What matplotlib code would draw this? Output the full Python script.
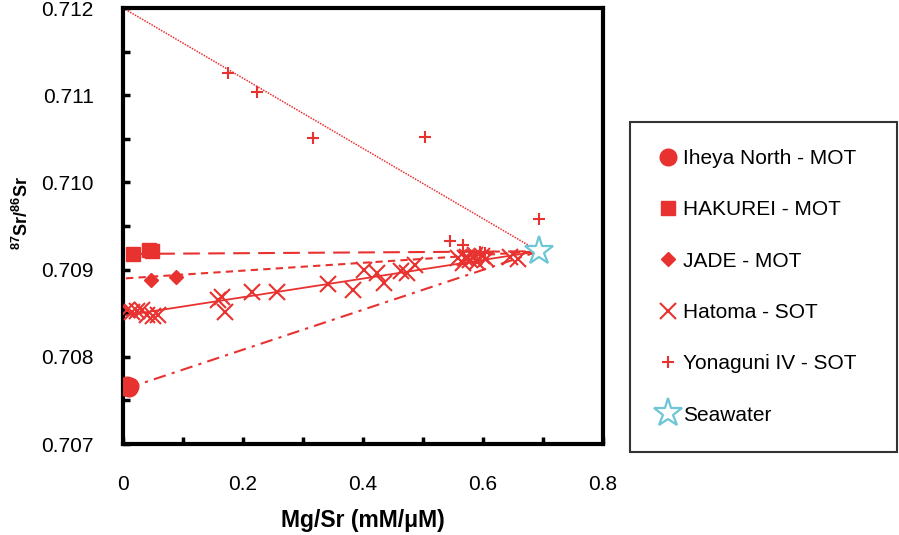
import numpy as np
import matplotlib.pyplot as plt
from matplotlib.ticker import MultipleLocator, FuncFormatter

plt.rcParams['font.family'] = ['Liberation Sans', 'DejaVu Sans']
plt.rcParams['mathtext.fontset'] = 'custom'
plt.rcParams['mathtext.rm'] = 'Liberation Sans'
plt.rcParams['mathtext.bf'] = 'Liberation Sans:bold'

# %% Data (Mg/Sr in mM/uM, 87Sr/86Sr)

iheya_x = [0.003, 0.007, 0.010, 0.012]
iheya_y = [0.70765, 0.70768, 0.70764, 0.70766]

hakurei_x = [0.017, 0.043, 0.048]
hakurei_y = [0.70918, 0.70922, 0.70921]

jade_x = [0.047, 0.088]
jade_y = [0.70888, 0.70892]

hatoma_x = [0.007, 0.015, 0.023, 0.032, 0.040, 0.050, 0.058, 0.158, 0.165, 0.170,
            0.215, 0.257, 0.342, 0.383, 0.402, 0.423, 0.435, 0.463, 0.473, 0.487,
            0.558, 0.567, 0.573, 0.578, 0.585, 0.590, 0.598, 0.605, 0.587, 0.570,
            0.645, 0.658]
hatoma_y = [0.70854, 0.70851, 0.70853, 0.70854, 0.70848, 0.70847, 0.70848, 0.70865, 0.70869, 0.70851,
            0.70874, 0.70874, 0.70883, 0.70877, 0.70900, 0.70896, 0.70885, 0.70898, 0.70896, 0.70905,
            0.70913, 0.70908, 0.70915, 0.70911, 0.70914, 0.70909, 0.70916, 0.70912, 0.70917, 0.70913,
            0.70914, 0.70912]

yonaguni_x = [0.175, 0.223, 0.317, 0.503, 0.693, 0.545, 0.567, 0.595, 0.603]
yonaguni_y = [0.71125, 0.71104, 0.71051, 0.71052, 0.70958, 0.70933, 0.70928, 0.70920, 0.70919]

seawater_x = 0.693
seawater_y = 0.70921

# mixing line end members (toward seawater)
end_names = ['Iheya', 'HAKUREI', 'JADE', 'Hatoma', 'Yonaguni']
end_x = [0.007, 0.017, 0.005, 0.0, 0.0]
end_y = [0.70764, 0.70918, 0.70890, 0.70847, 0.71200]

red = '#e8322f'
cyan = '#6cc6d6'

# %% Plot

fig = plt.figure(figsize=(8.99, 5.35), dpi=100)
ax = fig.add_axes([123/899, 1-444/535, 480/899, 436/535])

styles = {'Iheya': (0, (6, 3, 1.5, 3)), 'HAKUREI': (0, (8, 4)), 'JADE': (0, (3.5, 2.5)),
          'Hatoma': '-', 'Yonaguni': (0, (1, 0.8))}
widths = {'Iheya': 1.5, 'HAKUREI': 1.5, 'JADE': 1.5, 'Hatoma': 1.3, 'Yonaguni': 1.1}
for name, ex, ey in zip(end_names, end_x, end_y):
    ax.plot([ex, seawater_x], [ey, seawater_y], color=red, linestyle=styles[name],
            linewidth=widths[name], zorder=2)

ax.plot(iheya_x, iheya_y, 'o', color=red, markersize=12, linestyle='none',
        label='Iheya North - MOT', zorder=3)
ax.plot(hakurei_x, hakurei_y, 's', color=red, markersize=9.5, linestyle='none',
        label='HAKUREI - MOT', zorder=3)
ax.plot(jade_x, jade_y, 'D', color=red, markersize=7.5, linestyle='none',
        label='JADE - MOT', zorder=3)
ax.plot(hatoma_x, hatoma_y, 'x', color=red, markersize=11, markeredgewidth=1.5,
        linestyle='none', label='Hatoma - SOT', zorder=3)
ax.plot(yonaguni_x, yonaguni_y, '+', color=red, markersize=9, markeredgewidth=1.5,
        linestyle='none', label='Yonaguni IV - SOT', zorder=3)
ax.plot([seawater_x], [seawater_y], '*', markerfacecolor='white', markeredgecolor=cyan,
        markersize=21, markeredgewidth=1.6, linestyle='none', label='Seawater', zorder=4)

ax.set_xlim(0, 0.8)
ax.set_ylim(0.707, 0.712)
ax.xaxis.set_major_locator(MultipleLocator(0.2))
ax.xaxis.set_minor_locator(MultipleLocator(0.1))
ax.yaxis.set_major_locator(MultipleLocator(0.001))
ax.yaxis.set_minor_locator(MultipleLocator(0.0005))
ax.xaxis.set_major_formatter(FuncFormatter(lambda v, p: '0' if abs(v) < 1e-9 else '%.1f' % v))
ax.yaxis.set_major_formatter(FuncFormatter(lambda v, p: '%.3f' % v))
ax.tick_params(which='both', direction='in', length=5, width=2.5, labelsize=15, pad=21)
ax.tick_params(axis='x', pad=22)

for s in ax.spines.values():
    s.set_linewidth(3)

ax.set_xlabel('Mg/Sr (mM/μM)', fontsize=16.5, fontweight='bold', labelpad=11)
ax.set_ylabel(r'$\mathbf{^{87}Sr/^{86}Sr}$', fontsize=13)
ax.yaxis.set_label_coords(-0.19, 0.53)

leg = ax.legend(loc='upper left', bbox_to_anchor=(630/899, 1-122/535-0.01, 267/899, 0.01),
                bbox_transform=fig.transFigure, mode='expand', fontsize=15, frameon=True,
                fancybox=False, edgecolor='black', numpoints=1, handlelength=1.0,
                handletextpad=0.25, labelspacing=1.55, borderpad=1.3, borderaxespad=0)
leg.get_frame().set_linewidth(1.5)

fig.savefig('out.png', dpi=100)
